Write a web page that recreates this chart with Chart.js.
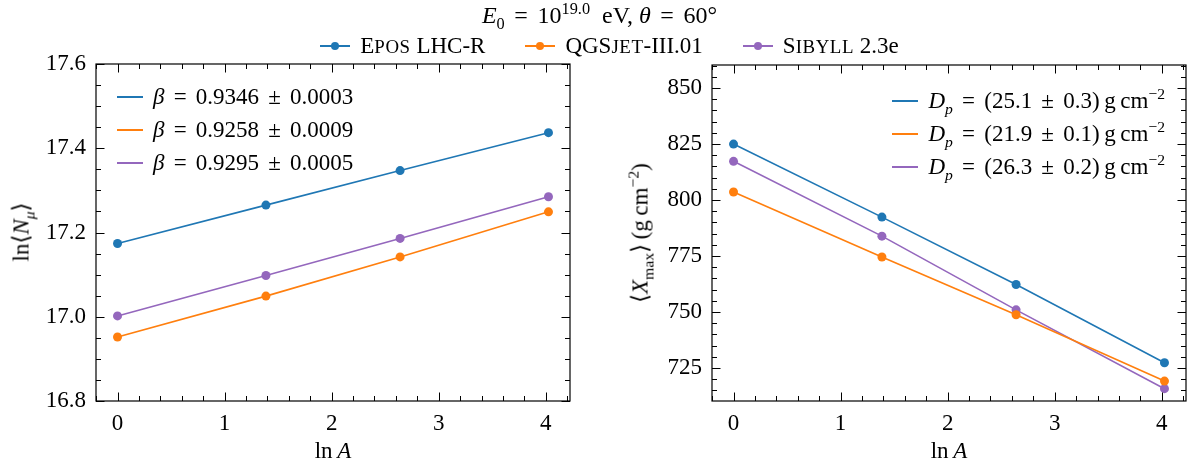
<!DOCTYPE html>
<html>
<head>
<meta charset="utf-8">
<script src="https://cdn.jsdelivr.net/npm/chart.js@4.4.1/dist/chart.umd.min.js"></script>
<style>
  body { margin: 0; width: 1199px; height: 468px; position: relative; background: #fff; overflow: hidden;
         font-family: "Liberation Serif", serif; color: #000; }
  canvas { position: absolute; top: 0; }
  .txt { position: absolute; white-space: nowrap; font-size: 23px; line-height: 1; }
  .sc { font-size: 82%; letter-spacing: 0.03em; }
  .op { margin: 0 0.4em; }
  sup, sub { font-size: 68%; line-height: 0; }
  .row { display: flex; align-items: center; height: 33px; }
  .handle { display: inline-block; width: 26px; height: 2px; margin-right: 10px; position: relative; flex: none; }
  .dot { position: absolute; width: 8px; height: 8px; border-radius: 50%; left: 11px; top: -3px; }
  .item { display: inline-flex; align-items: center; margin: 0 20px; }
  .item .handle { width: 30px; }
</style>
</head>
<body>
<canvas id="nmuChart" width="600" height="468" style="left:0"></canvas>
<canvas id="xmaxChart" width="599" height="468" style="left:600px"></canvas>

<div class="txt" style="left:0; width:1199px; text-align:center; top:3px; font-size:24px;">
  <i>E</i><sub>0</sub><span class="op">=</span>10<sup>19.0</sup>&ensp;eV, <i>θ</i><span class="op">=</span>60°
</div>
<div class="txt" id="topLegend" style="left:10px; width:1199px; top:34px; display:flex; justify-content:center;"></div>
<div class="txt" id="nmuLegend" style="left:117px; top:80px;"></div>
<div class="txt" id="xmaxLegend" style="right:34px; top:84px;"></div>

<div class="txt" style="left:333px; top:439px; transform:translateX(-50%);">ln&thinsp;<i>A</i></div>
<div class="txt" style="left:949px; top:439px; transform:translateX(-50%);">ln&thinsp;<i>A</i></div>
<div class="txt" style="left:21px; top:232px; transform:translate(-50%,-50%) rotate(-90deg);">ln⟨<i>N</i><sub><i>μ</i></sub>⟩</div>
<div class="txt" style="left:640px; top:233px; transform:translate(-50%,-50%) rotate(-90deg);">⟨<i>X</i><sub>max</sub>⟩&thinsp;(g&thinsp;cm<sup>−2</sup>)</div>

<script>
// x positions: ln A for p, He, N, Fe
const lnA = [0, 1.386, 2.639, 4.025];

const models = ['E<span class="sc">POS</span> LHC-R', 'QGS<span class="sc">JET</span>-III.01', 'S<span class="sc">IBYLL</span> 2.3e'];
const colors = ["#1f77b4", "#ff7f0e", "#9467bd"];

// ln<N_mu> per model
const nmuEpos = [17.174, 17.265, 17.347, 17.437];
const nmuQgs = [16.952, 17.049, 17.142, 17.249];
const nmuSib = [17.002, 17.098, 17.186, 17.285];

// <Xmax> per model (g cm^-2)
const xmaxEpos = [825.0, 792.4, 762.3, 727.4];
const xmaxQgs = [803.6, 774.6, 748.8, 719.2];
const xmaxSib = [817.3, 783.9, 751.0, 715.8];

// fit labels: [value, error]
const betaLabels = [["0.9346", "0.0003"], ["0.9258", "0.0009"], ["0.9295", "0.0005"]];
const dpLabels = [["25.1", "0.3"], ["21.9", "0.1"], ["26.3", "0.2"]];

// tick labels
const xTicks = [0, 1, 2, 3, 4];
const nmuTicks = [16.8, 17.0, 17.2, 17.4, 17.6];
const xmaxTicks = [725, 750, 775, 800, 825, 850];

const FONT = "Liberation Serif, serif";
Chart.defaults.font.family = FONT;

// legends (html text)
document.getElementById("topLegend").innerHTML = models.map((m, i) =>
  `<span class="item"><span class="handle" style="background:${colors[i]}"><span class="dot" style="background:${colors[i]}"></span></span><span>${m}</span></span>`
).join("");
document.getElementById("nmuLegend").innerHTML = betaLabels.map((b, i) =>
  `<div class="row"><span class="handle" style="background:${colors[i]}"></span><span><i>β</i><span class="op">=</span>${b[0]}<span class="op">±</span>${b[1]}</span></div>`
).join("");
document.getElementById("xmaxLegend").innerHTML = dpLabels.map((d, i) =>
  `<div class="row"><span class="handle" style="background:${colors[i]}"></span><span><i>D</i><sub><i>p</i></sub><span class="op">=</span>(${d[0]}<span class="op">±</span>${d[1]})&thinsp;g&thinsp;cm<sup>−2</sup></span></div>`
).join("");

// Frame on all sides plus inward major/minor ticks
const frameTicks = {
  id: "frameTicks",
  afterDraw(chart, args, opts) {
    const { ctx, chartArea: a, scales } = chart;
    ctx.save();
    ctx.strokeStyle = "#000";
    ctx.lineWidth = 1.2;
    ctx.strokeRect(a.left, a.top, a.right - a.left, a.bottom - a.top);
    ctx.lineWidth = 1;
    const marks = (scale, minor, major, horizontal) => {
      const k0 = Math.ceil(scale.min / minor - 1e-6);
      const k1 = Math.floor(scale.max / minor + 1e-6);
      for (let k = k0; k <= k1; k++) {
        const v = k * minor;
        const r = v / major;
        const len = Math.abs(r - Math.round(r)) < 1e-6 ? 8.5 : 5;
        const p = Math.round(scale.getPixelForValue(v)) + 0.5;
        ctx.beginPath();
        if (horizontal) {
          ctx.moveTo(p, a.bottom); ctx.lineTo(p, a.bottom - len);
          ctx.moveTo(p, a.top); ctx.lineTo(p, a.top + len);
        } else {
          ctx.moveTo(a.left, p); ctx.lineTo(a.left + len, p);
          ctx.moveTo(a.right, p); ctx.lineTo(a.right - len, p);
        }
        ctx.stroke();
      }
    };
    marks(scales.x, 0.2, 1, true);
    marks(scales.y, opts.yMinor, opts.yMajor, false);
    ctx.restore();
  },
};

function makeChart(id, series, yTicks, yMin, yMax, yMinor, yMajor, yWidth, padRight, padTop, fmt) {
  return new Chart(document.getElementById(id).getContext("2d"), {
    type: "scatter",
    data: {
      datasets: series.map((s, i) => ({
        data: lnA.map((x, j) => ({ x: x, y: s[j] })),
        showLine: true,
        borderColor: colors[i],
        backgroundColor: colors[i],
        borderWidth: 1.6,
        pointRadius: 4.5,
        pointBorderWidth: 0,
      })),
    },
    options: {
      responsive: false,
      animation: false,
      layout: { padding: { top: padTop, right: padRight, bottom: 0, left: 0 } },
      plugins: {
        legend: { display: false },
        tooltip: { enabled: false },
        frameTicks: { yMinor: yMinor, yMajor: yMajor },
      },
      scales: {
        x: {
          type: "linear",
          min: -0.201,
          max: 4.226,
          afterBuildTicks: s => { s.ticks = xTicks.map(v => ({ value: v })); },
          afterFit: s => { s.height = 67; },
          grid: { display: false, drawTicks: false },
          border: { display: false },
          ticks: { padding: 9, color: "#000", font: { family: FONT, size: 23 }, callback: v => String(v) },
        },
        y: {
          min: yMin,
          max: yMax,
          afterBuildTicks: s => { s.ticks = yTicks.map(v => ({ value: v })); },
          afterFit: s => { s.width = yWidth; },
          grid: { display: false, drawTicks: false },
          border: { display: false },
          ticks: { padding: 10, color: "#000", font: { family: FONT, size: 23 }, callback: fmt },
        },
      },
    },
    plugins: [frameTicks],
  });
}

makeChart("nmuChart", [nmuEpos, nmuQgs, nmuSib], nmuTicks, 16.8, 17.6, 0.05, 0.2, 96, 30, 64, v => v.toFixed(1));
makeChart("xmaxChart", [xmaxEpos, xmaxQgs, xmaxSib], xmaxTicks, 710.3, 860.3, 5, 25, 112, 13, 65, v => String(v));
</script>
</body>
</html>
